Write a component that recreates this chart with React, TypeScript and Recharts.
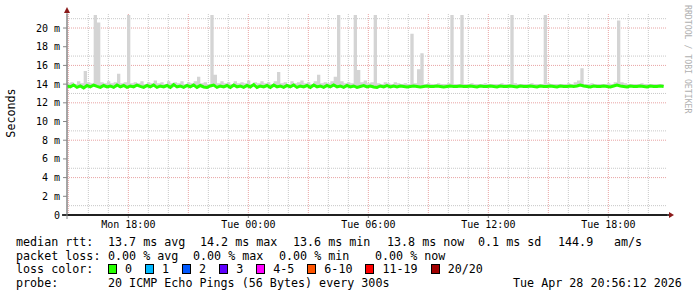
import React from "react";
import {
  Area,
  CartesianGrid,
  ComposedChart,
  Line,
  XAxis,
  YAxis,
} from "recharts";

// one sample every 10 minutes, starting Mon 14:56 (hours since Mon 00:00)
const START_HOUR = 14 + 56 / 60;
const STEP_HOUR = 10 / 60;
const END_HOUR = START_HOUR + 30;

const medianRtt = [
  13.8, 13.7, 13.9, 13.65, 13.8, 13.6, 13.85, 13.7, 13.9, 13.75, 13.65, 13.85, 13.7, 13.8, 13.65, 13.9, 13.7, 13.85, 13.65, 13.8,
  13.7, 13.9, 13.75, 13.65, 13.85, 13.7, 13.9, 13.65, 13.8, 13.7, 13.85, 13.65, 13.95, 13.7, 13.8, 13.65, 13.85, 13.7, 13.9, 13.65,
  13.85, 13.7, 13.65, 13.8, 13.9, 13.65, 13.8, 13.7, 13.85, 13.65, 13.9, 13.7, 13.8, 13.65, 13.85, 13.7, 13.95, 13.65, 13.8, 13.7,
  13.85, 13.65, 13.9, 13.7, 13.8, 13.65, 13.85, 13.7, 13.9, 13.65, 13.8, 13.7, 13.85, 13.65, 13.9, 13.7, 13.8, 13.65, 13.85, 13.7,
  13.9, 13.7, 13.8, 13.65, 13.85, 13.7, 13.8, 13.65, 13.75, 13.85, 13.7, 13.8, 13.7, 13.65, 13.8, 13.7, 13.85, 13.7, 13.8, 13.7,
  13.8, 13.75, 13.7, 13.75, 13.8, 13.75, 13.7, 13.75, 13.8, 13.75, 13.75, 13.8, 13.75, 13.7, 13.75, 13.8, 13.75, 13.75, 13.8, 13.75,
  13.75, 13.8, 13.75, 13.7, 13.8, 13.75, 13.75, 13.8, 13.75, 13.7, 13.8, 13.75, 13.75, 13.8, 13.75, 13.7, 13.8, 13.75, 13.75, 13.8,
  13.75, 13.7, 13.8, 13.75, 13.75, 13.8, 13.75, 13.7, 13.8, 13.75, 13.75, 13.8, 13.75, 13.8, 13.9, 13.8, 13.75, 13.7, 13.8, 13.75,
  13.75, 13.8, 13.75, 13.7, 13.8, 13.9, 13.8, 13.75, 13.7, 13.8, 13.75, 13.75, 13.8, 13.75, 13.7, 13.8, 13.75, 13.75, 13.8, 13.75,
];

// highest ping of each sample (the smoke)
const maxRtt = [
  14.1, 14.2, 14.0, 14.3, 14.1, 15.4, 14.2, 14.1, 21.4, 20.6, 14.2, 14.1, 14.3, 14.1, 14.2, 15.1, 14.1, 14.2, 21.4, 14.1,
  14.2, 14.1, 14.3, 14.0, 14.2, 14.1, 14.4, 14.1, 14.2, 14.0, 14.3, 14.1, 14.2, 14.1, 14.3, 14.0, 14.2, 14.1, 14.3, 14.8,
  14.1, 14.2, 14.0, 21.4, 15.0, 14.1, 14.3, 14.1, 14.2, 14.0, 14.3, 14.1, 14.2, 14.1, 14.4, 14.0, 14.2, 14.1, 14.3, 14.1,
  14.2, 14.0, 14.3, 15.3, 14.1, 14.2, 14.0, 14.3, 14.1, 14.2, 14.4, 14.1, 14.2, 14.0, 14.3, 15.0, 14.1, 14.2, 14.1, 14.3,
  14.8, 21.4, 14.3, 14.1, 14.2, 14.1, 21.4, 15.5, 14.2, 14.4, 14.1, 14.2, 21.4, 14.1, 14.0, 14.2, 14.1, 14.0, 14.2, 14.1,
  14.0, 14.1, 14.0, 19.4, 14.1, 15.6, 17.3, 14.0, 14.1, 14.0, 14.0, 14.1, 14.0, 14.0, 14.1, 21.4, 14.0, 14.0, 21.4, 14.0,
  14.0, 14.1, 14.0, 14.0, 14.0, 14.1, 14.0, 14.0, 14.0, 14.0, 14.1, 14.0, 14.0, 21.4, 14.1, 14.0, 14.0, 14.0, 14.0, 14.1,
  14.0, 14.0, 14.0, 21.4, 14.1, 14.0, 14.0, 14.0, 14.0, 14.0, 14.1, 14.0, 14.2, 14.4, 15.7, 14.0, 14.0, 14.1, 14.0, 14.0,
  14.0, 14.0, 14.1, 14.0, 14.2, 20.8, 14.2, 14.1, 14.0, 14.0, 14.0, 14.0, 14.1, 14.0, 14.0, 14.0, 14.0, 14.0, 14.0, 14.0,
];

const timeLabels = [
  { hour: 18, label: "Mon 18:00" },
  { hour: 24, label: "Tue 00:00" },
  { hour: 30, label: "Tue 06:00" },
  { hour: 36, label: "Tue 12:00" },
  { hour: 42, label: "Tue 18:00" },
];
const yTicks = [0, 2, 4, 6, 8, 10, 12, 14, 16, 18, 20];
const minorY = [1, 3, 5, 7, 9, 11, 13, 15, 17, 19, 21];
const majorY = [2, 4, 6, 8, 10, 12, 14, 16, 18, 20];
const minorHours = [
  16, 17, 19, 20, 22, 23, 25, 26, 28, 29, 31, 32, 34, 35, 37, 38, 40, 41, 43, 44,
];
const majorHours = [15, 18, 21, 24, 27, 30, 33, 36, 39, 42];

const lossColors = [
  { label: "0", color: "#26ff00" },
  { label: "1", color: "#00b8ff" },
  { label: "2", color: "#0059ff" },
  { label: "3", color: "#5e00ff" },
  { label: "4-5", color: "#ff00ff" },
  { label: "6-10", color: "#ff5500" },
  { label: "11-19", color: "#ff0000" },
  { label: "20/20", color: "#a10000" },
];

// legend pieces with the column they start at
const rttLine = [
  { x: 16, text: "median rtt:" },
  { x: 108, text: "13.7 ms avg" },
  { x: 200, text: "14.2 ms max" },
  { x: 293, text: "13.6 ms min" },
  { x: 387, text: "13.8 ms now" },
  { x: 478, text: "0.1 ms sd" },
  { x: 558, text: "144.9" },
  { x: 614, text: "am/s" },
];
const lossLine = [
  { x: 16, text: "packet loss:" },
  { x: 108, text: "0.00 % avg" },
  { x: 193, text: "0.00 % max" },
  { x: 279, text: "0.00 % min" },
  { x: 375, text: "0.00 % now" },
];
const probeLine = [
  { x: 16, text: "probe:" },
  { x: 108, text: "20 ICMP Echo Pings (56 Bytes) every 300s" },
  { x: 513, text: "Tue Apr 28 20:56:12 2026" },
];

const data = medianRtt.map((med, i) => ({
  t: START_HOUR + i * STEP_HOUR,
  med,
  hi: maxRtt[i],
}));

const MONO = "'DejaVu Sans Mono', monospace";
const tickFont = { fontFamily: MONO, fontSize: 10, fill: "#000" };
const legendText: React.CSSProperties = {
  position: "absolute",
  fontSize: 11.7,
  lineHeight: "14px",
  whiteSpace: "pre",
};

function Pieces({ items, top }: { items: { x: number; text: string }[]; top: number }) {
  return (
    <>
      {items.map((p) => (
        <div key={p.x} style={{ ...legendText, left: p.x, top }}>
          {p.text}
        </div>
      ))}
    </>
  );
}

export default function App(): React.ReactElement {
  const labelFor = (h: number) =>
    timeLabels.find((l) => l.hour === h)?.label ?? "";

  return (
    <div
      style={{
        position: "absolute",
        left: 0,
        top: 0,
        width: 697,
        height: 297,
        background: "#fff",
        fontFamily: MONO,
      }}
    >
      <ComposedChart
        width={697}
        height={297}
        data={data}
        margin={{ top: 14, right: 30, bottom: 62, left: 7 }}
      >
        <CartesianGrid
          stroke="#c8c8c8"
          strokeDasharray="1 1"
          horizontalValues={minorY}
          verticalValues={minorHours}
        />
        <CartesianGrid
          stroke="#e8a4a4"
          strokeDasharray="1 1"
          horizontalValues={majorY}
          verticalValues={majorHours}
        />
        <XAxis
          dataKey="t"
          type="number"
          domain={[START_HOUR, END_HOUR]}
          ticks={timeLabels.map((l) => l.hour)}
          tickFormatter={labelFor}
          height={20}
          tickSize={3}
          tickMargin={3}
          tick={tickFont}
          axisLine={{ stroke: "#000" }}
          tickLine={{ stroke: "#999" }}
          allowDataOverflow
        />
        <YAxis
          type="number"
          domain={[0, 21.5]}
          ticks={yTicks}
          tickFormatter={(v: number) => (v === 0 ? "0" : `${v} m`)}
          width={60}
          tickSize={4}
          tickMargin={3}
          tick={tickFont}
          axisLine={{ stroke: "#888" }}
          tickLine={{ stroke: "#888" }}
          allowDataOverflow
        />
        <Area
          type="stepAfter"
          dataKey={(d: { med: number; hi: number }) => [d.med, d.hi]}
          stroke="none"
          fill="#d4d4d4"
          fillOpacity={1}
          isAnimationActive={false}
        />
        <Line
          type="linear"
          dataKey="med"
          stroke="#26ff00"
          strokeWidth={3}
          dot={false}
          isAnimationActive={false}
        />
      </ComposedChart>

      <svg
        width={697}
        height={297}
        style={{ position: "absolute", left: 0, top: 0, pointerEvents: "none" }}
      >
        <line x1={62} y1={215} x2={669} y2={215} stroke="#000" strokeWidth={1.5} />
        <line x1={67} y1={219} x2={67} y2={13} stroke="#888" strokeWidth={1} />
        <polygon points="64,13 70,13 67,7" fill="#8b1a1a" />
        <polygon points="669,212 669,218 674,215" fill="#8b1a1a" />
        <text
          x={11}
          y={113}
          transform="rotate(-90 11 113)"
          textAnchor="middle"
          dominantBaseline="central"
          fontFamily={MONO}
          fontSize={11.7}
          fill="#000"
        >
          Seconds
        </text>
        <text
          x={688}
          y={5}
          transform="rotate(90 688 5)"
          dominantBaseline="central"
          fontFamily={MONO}
          fontSize={8.2}
          fill="#b0b0b0"
        >
          RRDTOOL / TOBI OETIKER
        </text>
      </svg>

      <Pieces items={rttLine} top={235} />
      <Pieces items={lossLine} top={248.5} />

      <div
        style={{
          ...legendText,
          left: 16,
          top: 262,
          display: "flex",
          alignItems: "center",
        }}
      >
        <span style={{ width: 92 }}>loss color:</span>
        {lossColors.map((c) => (
          <span key={c.label} style={{ display: "flex", alignItems: "center" }}>
            <span
              style={{
                width: 7,
                height: 8,
                background: c.color,
                border: "1px solid #000",
                marginRight: 8,
              }}
            />
            <span style={{ marginRight: 13 }}>{c.label}</span>
          </span>
        ))}
      </div>

      <Pieces items={probeLine} top={276} />
    </div>
  );
}
